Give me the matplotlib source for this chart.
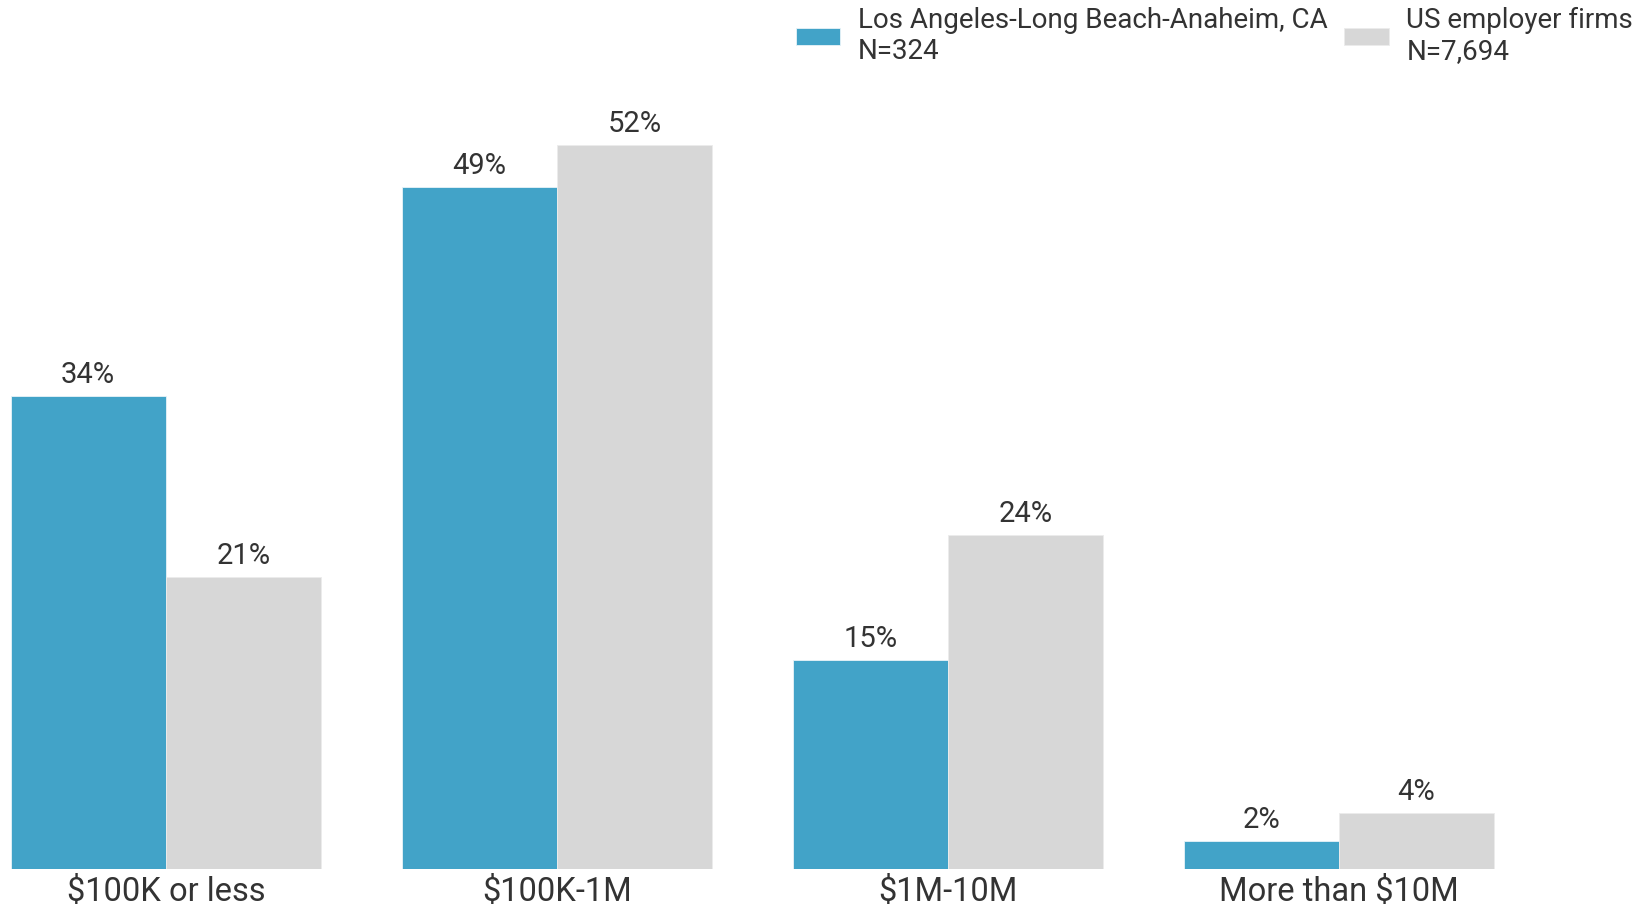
import matplotlib

matplotlib.use("Agg")
import matplotlib.pyplot as plt
import numpy as np

plt.rcParams["font.family"] = ["Roboto", "DejaVu Sans"]

CATEGORIES = ["$100K or less", "$100K-1M", "$1M-10M", "More than $10M"]
LA_VALUES = [34, 49, 15, 2]
US_VALUES = [21, 52, 24, 4]
LA_LABEL = "Los Angeles-Long Beach-Anaheim, CA\nN=324"
US_LABEL = "US employer firms\nN=7,694"

BLUE = "#42a3c8"
GREY = "#d7d7d7"
TEXT = "#333333"

fig = plt.figure(figsize=(16.45, 9.07), dpi=100)
ax = fig.add_axes([0, 38 / 907, 1, 869 / 907])

x = np.arange(len(CATEGORIES))
w = 0.397
b1 = ax.bar(x - w / 2, LA_VALUES, w, color=BLUE, edgecolor="#e8f3f8",
            linewidth=0.6, label=LA_LABEL)
b2 = ax.bar(x + w / 2, US_VALUES, w, color=GREY, edgecolor="#ececec",
            linewidth=0.6, label=US_LABEL)

for bars, vals in ((b1, LA_VALUES), (b2, US_VALUES)):
    for rect, v in zip(bars, vals):
        ax.annotate(f"{v}%", (rect.get_x() + rect.get_width() / 2, v),
                    xytext=(0, 5), textcoords="offset points",
                    ha="center", va="bottom", fontsize=21, color=TEXT)

ax.set_xlim(-0.424, 3.783)
ax.set_ylim(0, 62.4)
ax.set_xticks(x)
ax.set_xticklabels(CATEGORIES, fontsize=23.5, color=TEXT)
ax.tick_params(axis="x", length=0, pad=5)
ax.set_yticks([])
for s in ax.spines.values():
    s.set_visible(False)

fig.legend(handles=[b1, b2], labels=[LA_LABEL, US_LABEL], ncol=2,
           loc="upper right", bbox_to_anchor=(1.008, 1.02), frameon=False,
           fontsize=20, labelcolor=TEXT, handlelength=1.6, handleheight=0.55,
           handletextpad=0.64, columnspacing=0.6, labelspacing=0.2)

fig.savefig("out.png", dpi=100)
